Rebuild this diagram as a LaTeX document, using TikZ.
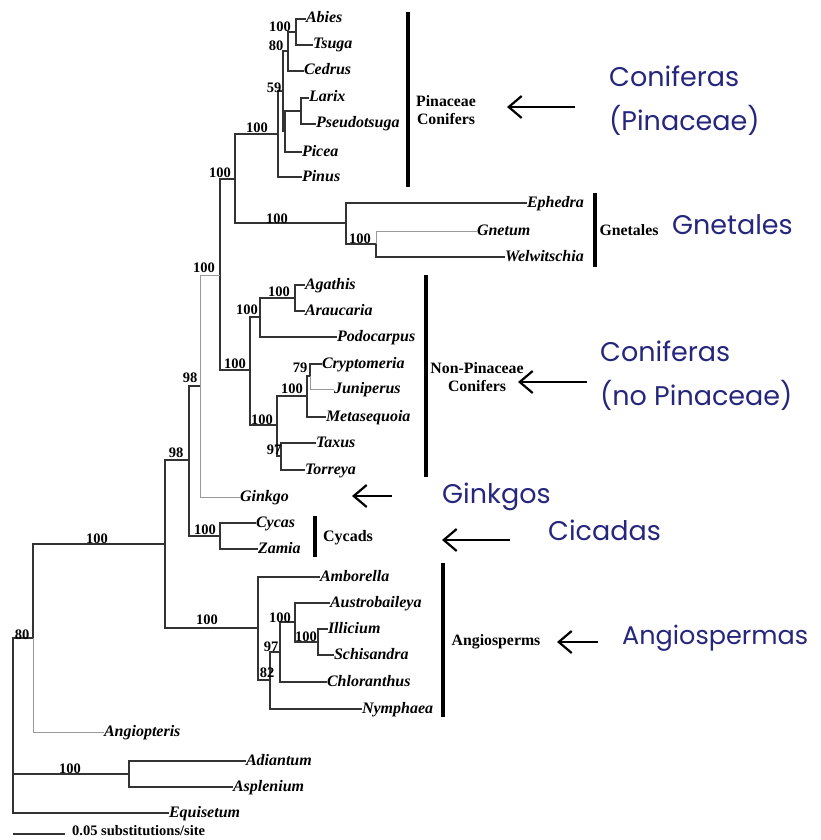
\documentclass[tikz,border=0pt]{standalone}
\usepackage{fontspec}
\setmainfont{Liberation Serif}
\newfontfamily\notefont{Poppins}
\usetikzlibrary{arrows.meta}
\definecolor{navyink}{RGB}{38,38,125}
\begin{document}
\begin{tikzpicture}[x=1pt,y=-1pt,
  br/.style={draw=black!80, line width=1.3pt},
  lt/.style={draw=black!40, line width=1pt},
  taxon/.style={anchor=west, inner sep=0pt, outer sep=0pt, text height=0.8em, text depth=0pt, font=\fontsize{16}{16}\selectfont\bfseries\itshape},
  bs/.style={inner sep=0pt, font=\fontsize{14.5}{15}\selectfont\bfseries},
  grp/.style={inner sep=0pt, align=center, font=\fontsize{15.8}{18}\selectfont\bfseries},
  bar/.style={draw=black, line width=3.5pt},
  arr/.style={draw=black, line width=2.2pt, -{Straight Barb[length=13pt,width=22pt]}},
  note/.style={anchor=west, inner sep=0pt, text height=0.72em, text depth=0pt, text=navyink, font=\notefont\fontsize{27}{27}\selectfont}
]
\useasboundingbox (0,0) rectangle (821,840);

% ---------- leaves ----------
\node[taxon] (abies) at (306,19) {Abies};
\node[taxon] (tsuga) at (313,45) {Tsuga};
\node[taxon] (cedrus) at (304,71) {Cedrus};
\node[taxon] (larix) at (309,98) {Larix};
\node[taxon] (pseudo) at (316,124) {Pseudotsuga};
\node[taxon] (picea) at (302,152) {Picea};
\node[taxon] (pinus) at (302,177) {Pinus};
\node[taxon] (ephedra) at (527,203) {Ephedra};
\node[taxon] (gnetum) at (477,231) {Gnetum};
\node[taxon] (welw) at (505,257) {Welwitschia};
\node[taxon] (agathis) at (305,285) {Agathis};
\node[taxon] (araucaria) at (305,311) {Araucaria};
\node[taxon] (podocarpus) at (337,337) {Podocarpus};
\node[taxon] (crypt) at (322,364) {Cryptomeria};
\node[taxon] (junip) at (334,389) {Juniperus};
\node[taxon] (meta) at (326,417) {Metasequoia};
\node[taxon] (taxus) at (316,443) {Taxus};
\node[taxon] (torreya) at (305,470) {Torreya};
\node[taxon] (ginkgo) at (240,497) {Ginkgo};
\node[taxon] (cycas) at (256,523) {Cycas};
\node[taxon] (zamia) at (258,549) {Zamia};
\node[taxon] (amborella) at (320,577) {Amborella};
\node[taxon] (austro) at (330,603) {Austrobaileya};
\node[taxon] (illicium) at (328,629) {Illicium};
\node[taxon] (schis) at (334,655) {Schisandra};
\node[taxon] (chlor) at (327,682) {Chloranthus};
\node[taxon] (nymph) at (362,709) {Nymphaea};
\node[taxon] (angiopteris) at (104,732) {Angiopteris};
\node[taxon] (adiantum) at (246,761) {Adiantum};
\node[taxon] (asplenium) at (233,787) {Asplenium};
\node[taxon] (equisetum) at (169,813) {Equisetum};

% ---------- internal nodes ----------
\coordinate (nAT) at (296,32);
\coordinate (n80) at (288,51);
\coordinate (nLP) at (301,111);
\coordinate (nLPP) at (285,131);
\coordinate (n59) at (283,91);
\coordinate (nPin) at (278,134);
\coordinate (nGW) at (376,244);
\coordinate (nGnet) at (346,223);
\coordinate (nPG) at (235,179);
\coordinate (nAA) at (295,298);
\coordinate (nAAP) at (260,317);
\coordinate (nCJ) at (310,376);
\coordinate (nCJM) at (307,396);
\coordinate (nTT) at (281,456);
\coordinate (nCT) at (277,425);
\coordinate (nNP) at (250,370);
\coordinate (nCon) at (220,275);
\coordinate (nGk) at (200,386);
\coordinate (nCyc) at (220,536);
\coordinate (nGym) at (189,460);
\coordinate (nIS) at (318,642);
\coordinate (nAIS) at (295,622);
\coordinate (n97) at (280,652);
\coordinate (n82) at (270,680);
\coordinate (nAng) at (258,628);
\coordinate (nSeed) at (165,544);
\coordinate (nEu) at (33,638);
\coordinate (nFern) at (129,774);
\coordinate (nRoot) at (13,726);

% ---------- branches ----------
\draw[br] (nAT) |- (abies.west);
\draw[br] (nAT) |- (tsuga.west);
\draw[br] (n80) |- (nAT);
\draw[br] (n80) |- (cedrus.west);
\draw[br] (nLP) |- (larix.west);
\draw[br] (nLP) |- (pseudo.west);
\draw[br] (nLPP) |- (nLP);
\draw[br] (nLPP) |- (picea.west);
\draw[br] (n59) |- (n80);
\draw[br] (n59) |- (nLPP);
\draw[br] (nPin) |- (n59);
\draw[br] (nPin) |- (pinus.west);
\draw[lt] (nGW) |- (gnetum.west);
\draw[br] (nGW) |- (welw.west);
\draw[br] (nGnet) |- (ephedra.west);
\draw[br] (nGnet) |- (nGW);
\draw[br] (nPG) |- (nPin);
\draw[br] (nPG) |- (nGnet);
\draw[br] (nAA) |- (agathis.west);
\draw[br] (nAA) |- (araucaria.west);
\draw[br] (nAAP) |- (nAA);
\draw[br] (nAAP) |- (podocarpus.west);
\draw[br] (nCJ) |- (crypt.west);
\draw[lt] (nCJ) |- (junip.west);
\draw[br] (nCJM) |- (nCJ);
\draw[br] (nCJM) |- (meta.west);
\draw[br] (nTT) |- (taxus.west);
\draw[br] (nTT) |- (torreya.west);
\draw[br] (nCT) |- (nCJM);
\draw[br] (nCT) |- (nTT);
\draw[br] (nNP) |- (nAAP);
\draw[br] (nNP) |- (nCT);
\draw[br] (nCon) |- (nPG);
\draw[br] (nCon) |- (nNP);
\draw[lt] (nGk) |- (nCon);
\draw[lt] (nGk) |- (ginkgo.west);
\draw[br] (nCyc) |- (cycas.west);
\draw[br] (nCyc) |- (zamia.west);
\draw[br] (nGym) |- (nGk);
\draw[br] (nGym) |- (nCyc);
\draw[br] (nIS) |- (illicium.west);
\draw[br] (nIS) |- (schis.west);
\draw[br] (nAIS) |- (austro.west);
\draw[br] (nAIS) |- (nIS);
\draw[br] (n97) |- (nAIS);
\draw[br] (n97) |- (chlor.west);
\draw[br] (n82) |- (n97);
\draw[br] (n82) |- (nymph.west);
\draw[br] (nAng) |- (amborella.west);
\draw[br] (nAng) |- (n82);
\draw[br] (nSeed) |- (nGym);
\draw[br] (nSeed) |- (nAng);
\draw[br] (nEu) |- (nSeed);
\draw[lt] (nEu) |- (angiopteris.west);
\draw[br] (nFern) |- (adiantum.west);
\draw[br] (nFern) |- (asplenium.west);
\draw[br] (nRoot) |- (nEu);
\draw[br] (nRoot) |- (nFern);
\draw[br] (nRoot) |- (equisetum.west);

% ---------- bootstrap values ----------
\node[bs] (b1) at (280,27) {100};
\node[bs] (b2) at (276,46) {80};
\node[bs] (b3) at (274,88) {59};
\node[bs] (b4) at (257,128) {100};
\node[bs] (b5) at (220,173) {100};
\node[bs] (b6) at (277,219) {100};
\node[bs] (b7) at (360,239) {100};
\node[bs] (b8) at (204,268) {100};
\node[bs] (b9) at (279,292) {100};
\node[bs] (b10) at (247,310) {100};
\node[bs] (b11) at (235,364) {100};
\node[bs] (b12) at (262,420) {100};
\node[bs] (b13) at (292,389) {100};
\node[bs] (b14) at (300,368) {79};
\node[bs] (b15) at (274,450) {97};
\node[bs] (b16) at (190,378) {98};
\node[bs] (b17) at (176,453) {98};
\node[bs] (b18) at (205,530) {100};
\node[bs] (b19) at (97,539) {100};
\node[bs] (b20) at (207,620) {100};
\node[bs] (b21) at (280,618) {100};
\node[bs] (b22) at (306,637) {100};
\node[bs] (b23) at (271,647) {97};
\node[bs] (b24) at (267,673) {82};
\node[bs] (b25) at (22,635) {80};
\node[bs] (b26) at (70,769) {100};

% ---------- group bars and labels ----------
\coordinate (pinT) at (408,12);  \coordinate (pinB) at (408,187);
\coordinate (gneT) at (595,193); \coordinate (gneB) at (595,267);
\coordinate (npcT) at (426,275); \coordinate (npcB) at (426,477);
\coordinate (cycT) at (315,516); \coordinate (cycB) at (315,557);
\coordinate (angT) at (443,563); \coordinate (angB) at (443,717);
\draw[bar] (pinT) -- (pinB);
\draw[bar] (gneT) -- (gneB);
\draw[bar] (npcT) -- (npcB);
\draw[bar] (cycT) -- (cycB);
\draw[bar] (angT) -- (angB);

\node[grp] (gPin) at (446,110) {Pinaceae\\Conifers};
\node[grp] (gGne) at (629,230) {Gnetales};
\node[grp] (gNpc) at (477,377) {Non-Pinaceae\\Conifers};
\node[grp,font=\fontsize{16}{18}\selectfont\bfseries] (gCyc) at (348,538) {Cycads};
\node[grp] (gAng) at (496,642) {Angiosperms};

% ---------- annotations ----------
\node[note] (tPin1) at (609,83) {Coniferas};
\node[note] (tPin2) at (609,127) {(Pinaceae)};
\node[note] (tGne) at (672,231) {Gnetales};
\node[note] (tNpc1) at (600,358) {Coniferas};
\node[note] (tNpc2) at (600,402) {(no Pinaceae)};
\node[note] (tGin) at (442,500) {Ginkgos};
\node[note] (tCic) at (548,537) {Cicadas};
\node[note, font=\notefont\fontsize{25.5}{27}\selectfont] (tAng) at (622,641) {Angiospermas};

\coordinate (a1s) at (575,107); \coordinate (a1e) at (507,107);
\coordinate (a2s) at (587,382); \coordinate (a2e) at (518,382);
\coordinate (a3s) at (392,496); \coordinate (a3e) at (352,496);
\coordinate (a4s) at (510,540); \coordinate (a4e) at (442,540);
\coordinate (a5s) at (598,642); \coordinate (a5e) at (557,642);
\draw[arr] (a1s) -- (a1e);
\draw[arr] (a2s) -- (a2e);
\draw[arr] (a3s) -- (a3e);
\draw[arr] (a4s) -- (a4e);
\draw[arr] (a5s) -- (a5e);

% ---------- scale bar ----------
\coordinate (sb1) at (13,834);
\coordinate (sb2) at (65,834);
\draw[br] (sb1) -- (sb2);
\node[anchor=west, inner sep=0pt, font=\fontsize{14.5}{15}\selectfont\bfseries] (sbl) at (72,831) {0.05 substitutions/site};
\end{tikzpicture}
\end{document}
